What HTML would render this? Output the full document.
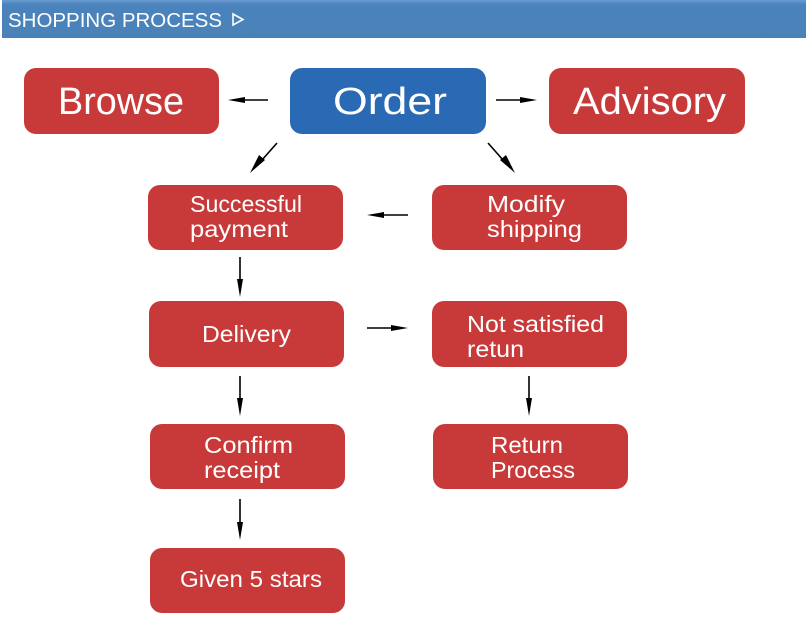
<!DOCTYPE html>
<html><head><meta charset="utf-8"><style>
html,body{margin:0;padding:0;background:#fff;width:806px;height:634px;overflow:hidden}
svg{display:block}
text{font-family:"Liberation Sans",sans-serif;fill:#fff}
</style></head><body>
<svg width="806" height="634" viewBox="0 0 806 634">
<defs><linearGradient id="hg" x1="0" y1="0" x2="0" y2="1"><stop offset="0" stop-color="#6a9bd0"/><stop offset="0.12" stop-color="#4a83bd"/><stop offset="1" stop-color="#4a82b8"/></linearGradient></defs>
<rect x="2" y="0" width="804" height="38" fill="url(#hg)"/>
<text x="8" y="27" font-size="20" textLength="214" lengthAdjust="spacingAndGlyphs">SHOPPING PROCESS</text>
<polygon points="233,14 243,19.5 233,25" fill="none" stroke="#fff" stroke-width="1.6"/>

<g fill="#c83a3a">
<rect x="24" y="68" width="195" height="66" rx="12"/>
<rect x="549" y="68" width="196" height="66" rx="12"/>
<rect x="148" y="185" width="195" height="65" rx="12"/>
<rect x="432" y="185" width="195" height="65" rx="12"/>
<rect x="149" y="301" width="195" height="66" rx="12"/>
<rect x="432" y="301" width="195" height="66" rx="12"/>
<rect x="150" y="424" width="195" height="65" rx="12"/>
<rect x="433" y="424" width="195" height="65" rx="12"/>
<rect x="150" y="548" width="195" height="65" rx="12"/>
</g>
<rect x="290" y="68" width="196" height="66" rx="12" fill="#2a6ab4"/>

<text x="58" y="114" font-size="38" textLength="126" lengthAdjust="spacingAndGlyphs">Browse</text>
<text x="333" y="114" font-size="38" textLength="114" lengthAdjust="spacingAndGlyphs">Order</text>
<text x="573" y="114" font-size="38" textLength="153" lengthAdjust="spacingAndGlyphs">Advisory</text>
<g font-size="23">
<text x="190" y="212" textLength="112" lengthAdjust="spacingAndGlyphs">Successful</text>
<text x="190" y="237" textLength="98" lengthAdjust="spacingAndGlyphs">payment</text>
<text x="487" y="212" textLength="78" lengthAdjust="spacingAndGlyphs">Modify</text>
<text x="487" y="237" textLength="95" lengthAdjust="spacingAndGlyphs">shipping</text>
<text x="202" y="342" textLength="89" lengthAdjust="spacingAndGlyphs">Delivery</text>
<text x="467" y="332" textLength="137" lengthAdjust="spacingAndGlyphs">Not satisfied</text>
<text x="467" y="357" textLength="57" lengthAdjust="spacingAndGlyphs">retun</text>
<text x="204" y="453" textLength="89" lengthAdjust="spacingAndGlyphs">Confirm</text>
<text x="204" y="478" textLength="76" lengthAdjust="spacingAndGlyphs">receipt</text>
<text x="491" y="453" textLength="72" lengthAdjust="spacingAndGlyphs">Return</text>
<text x="491" y="478" textLength="84" lengthAdjust="spacingAndGlyphs">Process</text>
<text x="180" y="587" textLength="142" lengthAdjust="spacingAndGlyphs">Given 5 stars</text>
</g>

<g stroke="#000" stroke-width="1.6" fill="#000">
<!-- horizontal -->
<line x1="268" y1="100" x2="240" y2="100"/><polygon points="228,100 245,97 245,103" stroke="none"/>
<line x1="496" y1="100" x2="525" y2="100"/><polygon points="537,100 520,97 520,103" stroke="none"/>
<line x1="408" y1="215" x2="380" y2="215"/><polygon points="367,215 384,212 384,218" stroke="none"/>
<line x1="367" y1="328" x2="395" y2="328"/><polygon points="408,328 391,325 391,331" stroke="none"/>
<!-- vertical -->
<line x1="240" y1="257" x2="240" y2="285"/><polygon points="240,297 237,279 243,279" stroke="none"/>
<line x1="240" y1="376" x2="240" y2="404"/><polygon points="240,416 237,398 243,398" stroke="none"/>
<line x1="240" y1="499" x2="240" y2="528"/><polygon points="240,540 237,522 243,522" stroke="none"/>
<line x1="529" y1="376" x2="529" y2="404"/><polygon points="529,416 526,398 532,398" stroke="none"/>
<!-- diagonals -->
<line x1="277" y1="143" x2="262" y2="160"/><polygon points="250,173 259,155 265,160" stroke="none"/>
<line x1="488" y1="143" x2="503" y2="160"/><polygon points="515,173 500,160 506,155" stroke="none"/>
</g>
</svg>
</body></html>
